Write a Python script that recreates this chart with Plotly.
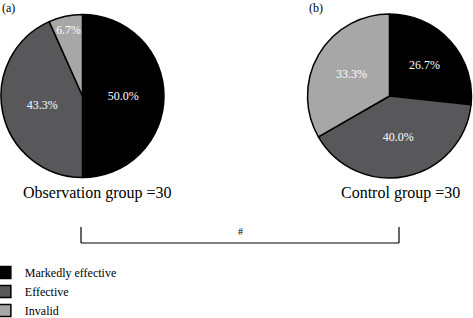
import plotly.graph_objects as go

categories = ["Markedly effective", "Effective", "Invalid"]
obs_values = [50.0, 43.3, 6.7]
ctrl_values = [26.7, 40.0, 33.3]
colors = ["#000000", "#58585a", "#a7a7a7"]
panel_labels = ["(a)", "(b)"]
group_labels = ["Observation group =30", "Control group =30"]

W, H = 473, 318
def px(x): return x / W
def py(y): return 1 - y / H

FONT = "Liberation Serif"

fig = go.Figure()
common = dict(
    labels=categories, sort=False, direction="clockwise", rotation=0,
    marker=dict(colors=colors, line=dict(color="#000000", width=1.5)),
    textinfo="percent", texttemplate="%{value:.1f}%", textposition="inside",
    insidetextorientation="horizontal",
    insidetextfont=dict(color="white", size=12, family=FONT),
    hoverinfo="skip",
)
fig.add_trace(go.Pie(values=obs_values, domain=dict(x=[px(1), px(164)], y=[py(178), py(14)]),
                     showlegend=True, **common))
fig.add_trace(go.Pie(values=ctrl_values, domain=dict(x=[px(307), px(472)], y=[py(178), py(14)]),
                     showlegend=False, **common))

ann = []
ann.append(dict(text=panel_labels[0], x=px(0), y=py(8), xanchor="left", yanchor="middle"))
ann.append(dict(text=panel_labels[1], x=px(307), y=py(8), xanchor="left", yanchor="middle"))
ann.append(dict(text=group_labels[0], x=px(97), y=py(193), xanchor="center", yanchor="middle",
                font=dict(size=16, family=FONT, color="#000")))
ann.append(dict(text=group_labels[1], x=px(400), y=py(193), xanchor="center", yanchor="middle",
                font=dict(size=16, family=FONT, color="#000")))
ann.append(dict(text="#", x=px(240), y=py(232), xanchor="center", yanchor="middle",
                font=dict(size=10, family=FONT, color="#000")))
for a in ann:
    a.update(xref="paper", yref="paper", showarrow=False)
    a.setdefault("font", dict(size=12, family=FONT, color="#000"))

shapes = [
    dict(type="line", x0=px(81), x1=px(399), y0=py(243), y1=py(243)),
    dict(type="line", x0=px(81), x1=px(81), y0=py(227), y1=py(243)),
    dict(type="line", x0=px(399), x1=px(399), y0=py(227), y1=py(243)),
]
for s in shapes:
    s.update(xref="paper", yref="paper", line=dict(color="#000", width=1.2))

fig.update_layout(
    width=W, height=H, margin=dict(l=0, r=0, t=0, b=0, autoexpand=False),
    paper_bgcolor="white", plot_bgcolor="white",
    annotations=ann, shapes=shapes,
    legend=dict(x=-0.032, y=py(258), xanchor="left", yanchor="top",
                font=dict(size=12, family=FONT, color="#000"),
                tracegroupgap=0, itemwidth=30, bgcolor="rgba(0,0,0,0)"),
    font=dict(family=FONT),
)
fig.write_html("out.html", config={"displayModeBar": False},
               post_script="document.body.style.margin='0';document.body.style.overflow='hidden';")
